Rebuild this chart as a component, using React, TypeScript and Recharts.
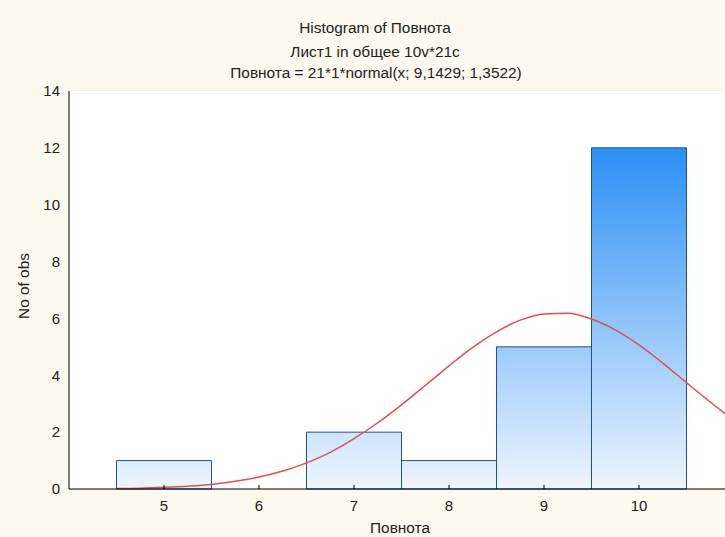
import { ComposedChart, Bar, Line, XAxis, YAxis, CartesianGrid } from "recharts";

// Histogram bins (variable value) and observation counts
const bins = [5, 6, 7, 8, 9, 10];
const counts = [1, 0, 2, 1, 5, 12];

// Fitted normal curve, sampled along the x axis
const curveX = [
  4.5, 4.75, 5, 5.25, 5.5, 5.75, 6, 6.25, 6.5, 6.75, 7, 7.25, 7.5, 7.75,
  8, 8.25, 8.5, 8.75, 9, 9.25, 9.5, 9.75, 10, 10.25, 10.5, 10.75, 11,
];
const curveY = [
  0.02, 0.03, 0.06, 0.1, 0.16, 0.27, 0.42, 0.63, 0.92, 1.29, 1.77, 2.33, 2.96, 3.64,
  4.33, 4.98, 5.53, 5.94, 6.16, 6.18, 5.98, 5.6, 5.07, 4.43, 3.74, 3.06, 2.41,
];

const yTicks = [0, 2, 4, 6, 8, 10, 12, 14];

const barData = bins.map((b, i) => ({ bin: String(b), count: counts[i] }));
const curveData = curveX.map((x, i) => ({ x, y: curveY[i] }));

const FONT = '"Liberation Sans", Arial, sans-serif';
const TEXT = "#222";

// bottom ticks point up into the plot, label sits below the axis
const BottomTick = ({ x, y, payload }: any) => (
  <g>
    <line x1={x} x2={x} y1={y} y2={y - 4} stroke="#000" />
    <text x={x} y={y + 22} textAnchor="middle" fontSize={15} fontFamily={FONT} fill={TEXT}>
      {payload.value}
    </text>
  </g>
);

// top border ticks point down, no labels
const TopTick = ({ x, y }: any) => <line x1={x} x2={x} y1={y} y2={y + 4} stroke="#000" />;

export default function App() {
  return (
    <div
      style={{
        position: "fixed",
        left: 0,
        top: 0,
        width: 725,
        height: 537,
        overflow: "hidden",
        background: "#fcf9ef",
      }}
    >
      <ComposedChart
        width={736}
        height={537}
        data={barData}
        margin={{ top: 91, right: 2, left: 8, bottom: 18 }}
        barCategoryGap={0}
        barGap={0}
      >
        <defs>
          <linearGradient id="barFill" gradientUnits="userSpaceOnUse" x1="0" y1="91" x2="0" y2="489">
            <stop offset="0%" stopColor="#1a86f4" />
            <stop offset="14%" stopColor="#2a8ff5" />
            <stop offset="100%" stopColor="#eef6fe" />
          </linearGradient>
        </defs>
        <rect x={69} y={91} width={665} height={398} fill="#fff" />
        <CartesianGrid vertical={false} stroke="#e2e2e2" xAxisId="num" />
        <XAxis
          xAxisId="num"
          dataKey="x"
          type="number"
          domain={[4, 11]}
          ticks={bins}
          allowDataOverflow
          height={30}
          tickSize={0}
          tickMargin={0}
          tick={<BottomTick />}
          axisLine={{ stroke: "#000" }}
        />
        <XAxis
          xAxisId="bins"
          dataKey="bin"
          type="category"
          hide
          height={0}
          padding={{ left: 47.5, right: 47.5 }}
        />
        <XAxis
          xAxisId="top"
          orientation="top"
          type="number"
          domain={[4, 11]}
          ticks={bins}
          allowDataOverflow
          height={0}
          tickSize={0}
          tickMargin={0}
          tick={<TopTick />}
          axisLine={{ stroke: "#000" }}
        />
        <YAxis
          type="number"
          domain={[0, 14]}
          ticks={yTicks}
          width={61}
          tickLine={false}
          tickSize={0}
          tickMargin={9}
          axisLine={{ stroke: "#000" }}
          tick={{ fontSize: 15, fontFamily: FONT, fill: TEXT }}
        />
        <Bar
          xAxisId="bins"
          dataKey="count"
          fill="url(#barFill)"
          stroke="#1f4f8f"
          strokeWidth={1}
          isAnimationActive={false}
        />
        <Line
          xAxisId="num"
          data={curveData}
          dataKey="y"
          type="monotone"
          dot={false}
          stroke="#e0504f"
          strokeWidth={1.5}
          isAnimationActive={false}
        />
      </ComposedChart>

      {/* titles and axis names */}
      <svg
        width={725}
        height={537}
        style={{ position: "absolute", left: 0, top: 0, pointerEvents: "none" }}
        fontFamily={FONT}
        fontSize={15.4}
        fill={TEXT}
      >
        <text x={375} y={33} textAnchor="middle">Histogram of Повнота</text>
        <text x={375} y={57} textAnchor="middle">Лист1 in общее 10v*21c</text>
        <text x={376} y={78} textAnchor="middle">Повнота = 21*1*normal(x; 9,1429; 1,3522)</text>
        <text x={400} y={533} textAnchor="middle">Повнота</text>
        <text transform="translate(28.5,286) rotate(-90)" textAnchor="middle">No of obs</text>
      </svg>
    </div>
  );
}
